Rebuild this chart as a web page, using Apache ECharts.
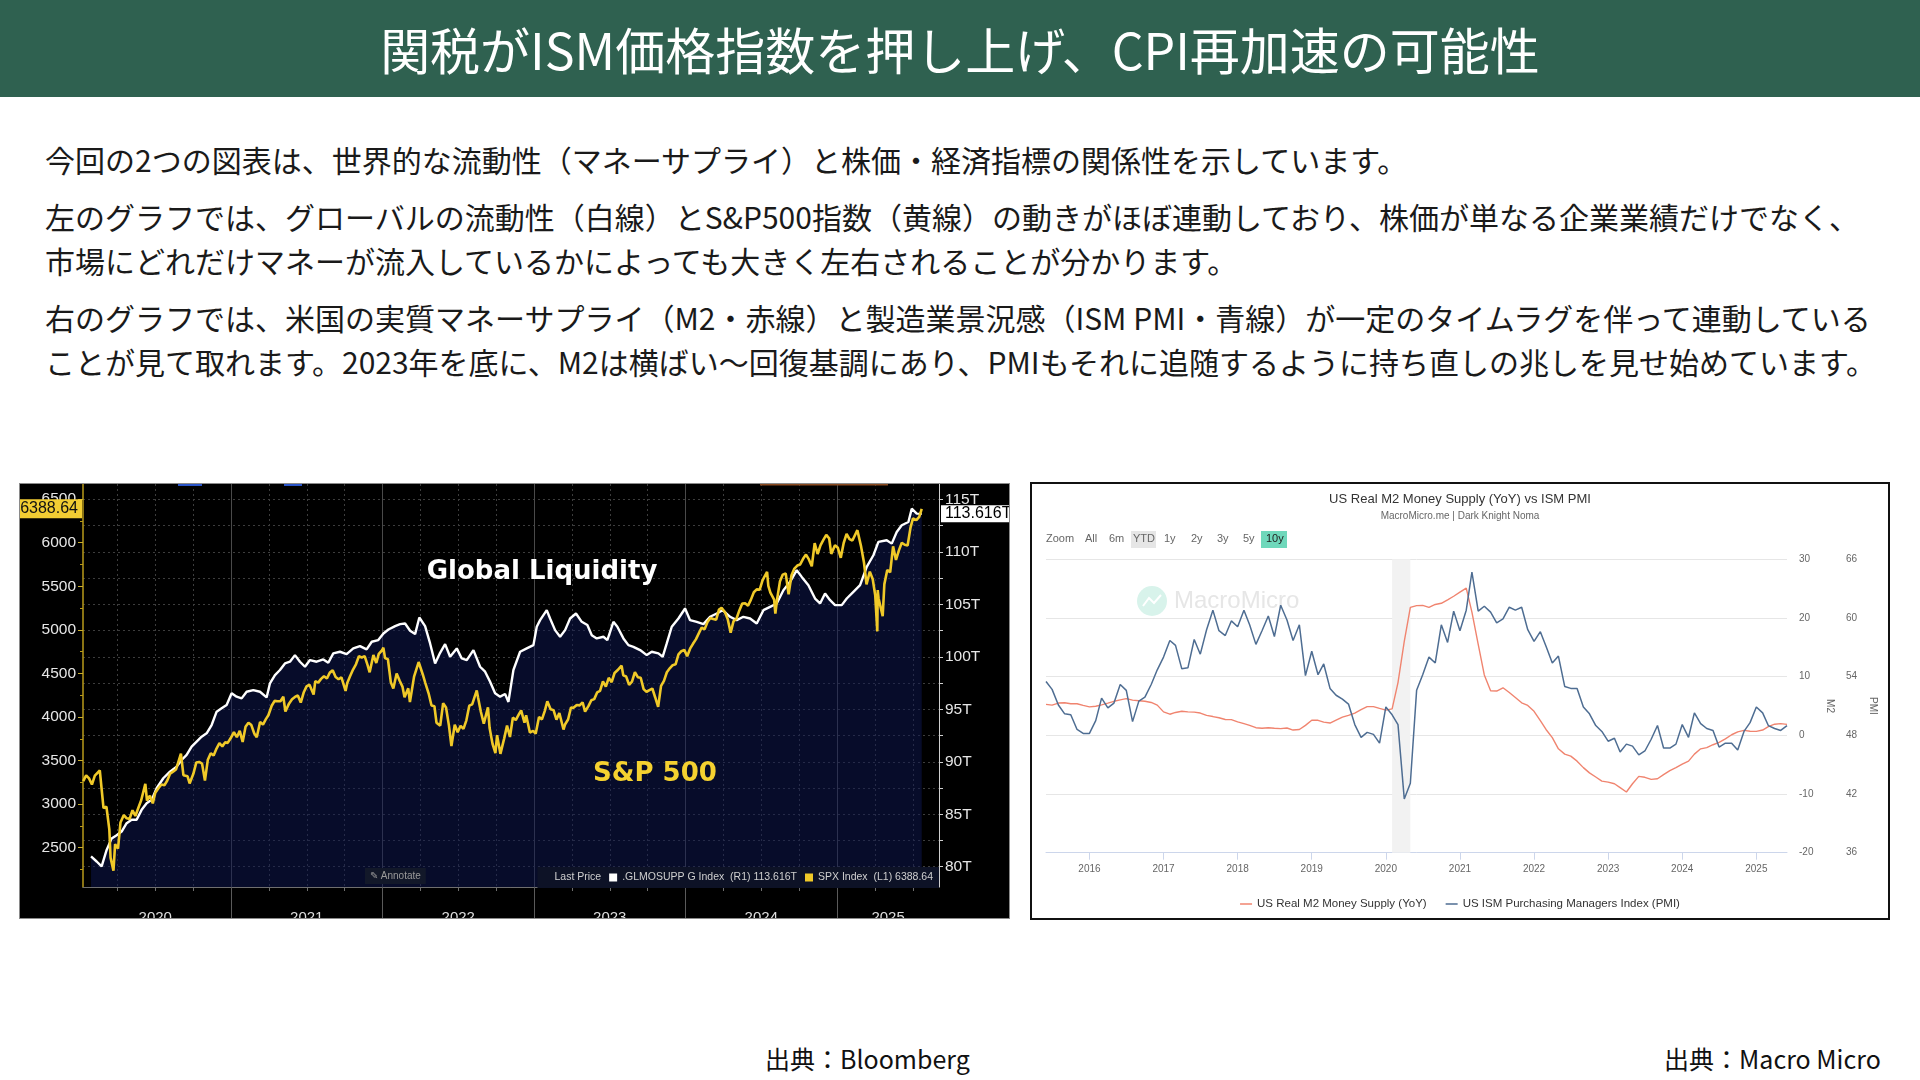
<!DOCTYPE html>
<html><head><meta charset="utf-8">
<script src="https://cdn.jsdelivr.net/npm/echarts@6/dist/echarts.min.js"></script>
<style>
html,body{margin:0;padding:0;width:1920px;height:1080px;background:#fff;overflow:hidden;font-family:"Noto Sans CJK JP","Noto Sans",sans-serif;}
#header{position:absolute;left:0;top:0;width:1920px;height:97px;background:#2f6150;color:#fff;font-size:50px;line-height:97px;text-align:center;white-space:nowrap;}
#body{position:absolute;left:45px;top:137px;font-size:30px;color:#1a1a1a;white-space:nowrap;}
#body p{margin:0 0 13px 0;line-height:44px;}
#left{position:absolute;left:20px;top:484px;width:989px;height:434px;background:#000;outline:1px solid #8a8a8a;}
#right{position:absolute;left:1032px;top:484px;width:856px;height:434px;background:#fff;outline:2px solid #111;}
.src{position:absolute;top:1040px;font-size:25px;line-height:36px;color:#111;white-space:nowrap;}
</style></head>
<body>
<div id="header">関税がISM価格指数を押し上げ、CPI再加速の可能性</div>
<div id="body">
<p>今回の2つの図表は、世界的な流動性（マネーサプライ）と株価・経済指標の関係性を示しています。</p>
<p>左のグラフでは、グローバルの流動性（白線）とS&amp;P500指数（黄線）の動きがほぼ連動しており、株価が単なる企業業績だけでなく、<br>市場にどれだけマネーが流入しているかによっても大きく左右されることが分かります。</p>
<p>右のグラフでは、米国の実質マネーサプライ（M2・赤線）と製造業景況感（ISM PMI・青線）が一定のタイムラグを伴って連動している<br>ことが見て取れます。2023年を底に、M2は横ばい〜回復基調にあり、PMIもそれに追随するように持ち直しの兆しを見せ始めています。</p>
</div>
<div id="left"></div>
<div id="right"></div>
<div class="src" style="left:765px;">出典：Bloomberg</div>
<div class="src" style="left:1664px;">出典：Macro Micro</div>
<script>
// ---------------- LEFT CHART DATA (Bloomberg) ----------------
const spxDates = ['2020-01-10','2020-01-17','2020-01-24','2020-01-31','2020-02-07','2020-02-19','2020-02-28','2020-03-06','2020-03-13','2020-03-16','2020-03-23','2020-03-27','2020-04-03','2020-04-09','2020-04-17','2020-04-24','2020-05-01','2020-05-08','2020-05-15','2020-05-22','2020-05-29','2020-06-08','2020-06-12','2020-06-19','2020-06-26','2020-07-02','2020-07-10','2020-07-17','2020-07-24','2020-07-31','2020-08-07','2020-08-14','2020-08-21','2020-09-02','2020-09-08','2020-09-11','2020-09-18','2020-09-23','2020-10-02','2020-10-09','2020-10-16','2020-10-23','2020-10-30','2020-11-06','2020-11-13','2020-11-20','2020-11-27','2020-12-04','2020-12-11','2020-12-18','2020-12-24','2020-12-31',
'2021-01-08','2021-01-15','2021-01-22','2021-01-29','2021-02-05','2021-02-12','2021-02-19','2021-02-26','2021-03-04','2021-03-12','2021-03-19','2021-03-26','2021-04-01','2021-04-09','2021-04-16','2021-04-23','2021-04-30','2021-05-07','2021-05-12','2021-05-21','2021-05-28','2021-06-04','2021-06-11','2021-06-18','2021-06-25','2021-07-02','2021-07-09','2021-07-19','2021-07-23','2021-07-30','2021-08-06','2021-08-13','2021-08-20','2021-08-27','2021-09-03','2021-09-10','2021-09-17','2021-09-24','2021-10-04','2021-10-08','2021-10-15','2021-10-22','2021-10-29','2021-11-05','2021-11-12','2021-11-19','2021-11-26','2021-12-01','2021-12-10','2021-12-17','2021-12-23','2021-12-31',
'2022-01-03','2022-01-07','2022-01-14','2022-01-21','2022-01-27','2022-02-04','2022-02-11','2022-02-18','2022-02-23','2022-03-04','2022-03-08','2022-03-18','2022-03-29','2022-04-08','2022-04-14','2022-04-22','2022-04-29','2022-05-06','2022-05-11','2022-05-20','2022-05-27','2022-06-03','2022-06-10','2022-06-16','2022-06-24','2022-07-01','2022-07-08','2022-07-15','2022-07-22','2022-07-29','2022-08-05','2022-08-16','2022-08-19','2022-08-26','2022-09-02','2022-09-12','2022-09-16','2022-09-23','2022-09-30','2022-10-04','2022-10-12','2022-10-21','2022-10-28','2022-11-04','2022-11-11','2022-11-18','2022-11-25','2022-12-01','2022-12-09','2022-12-13','2022-12-22','2022-12-30',
'2023-01-05','2023-01-13','2023-01-20','2023-01-27','2023-02-02','2023-02-10','2023-02-17','2023-02-24','2023-03-03','2023-03-13','2023-03-17','2023-03-24','2023-03-31','2023-04-06','2023-04-14','2023-04-21','2023-04-28','2023-05-04','2023-05-12','2023-05-19','2023-05-26','2023-06-02','2023-06-09','2023-06-16','2023-06-23','2023-06-30','2023-07-07','2023-07-14','2023-07-21','2023-07-31','2023-08-04','2023-08-11','2023-08-18','2023-08-25','2023-09-01','2023-09-08','2023-09-15','2023-09-22','2023-09-29','2023-10-06','2023-10-13','2023-10-20','2023-10-27','2023-11-03','2023-11-10','2023-11-17','2023-11-24','2023-12-01','2023-12-08','2023-12-15','2023-12-22','2023-12-29',
'2024-01-05','2024-01-12','2024-01-19','2024-01-26','2024-02-02','2024-02-09','2024-02-16','2024-02-23','2024-03-01','2024-03-08','2024-03-15','2024-03-22','2024-03-28','2024-04-05','2024-04-12','2024-04-19','2024-04-26','2024-05-03','2024-05-10','2024-05-17','2024-05-24','2024-05-31','2024-06-07','2024-06-14','2024-06-21','2024-06-28','2024-07-05','2024-07-16','2024-07-19','2024-07-24','2024-08-02','2024-08-05','2024-08-09','2024-08-16','2024-08-23','2024-08-30','2024-09-06','2024-09-13','2024-09-20','2024-09-27','2024-10-04','2024-10-11','2024-10-18','2024-10-25','2024-11-01','2024-11-08','2024-11-15','2024-11-22','2024-11-29','2024-12-06','2024-12-13','2024-12-18','2024-12-27',
'2025-01-03','2025-01-10','2025-01-17','2025-01-24','2025-01-31','2025-02-07','2025-02-19','2025-02-28','2025-03-07','2025-03-13','2025-03-21','2025-03-28','2025-04-03','2025-04-08','2025-04-09','2025-04-11','2025-04-21','2025-04-25','2025-05-02','2025-05-09','2025-05-16','2025-05-23','2025-05-30','2025-06-06','2025-06-13','2025-06-20','2025-06-27','2025-07-03','2025-07-11','2025-07-18','2025-07-24'];
const spxValues = [3265,3330,3295,3225,3328,3386,2954,2972,2711,2386,2237,2541,2489,2790,2875,2837,2831,2930,2864,2955,3044,3232,3041,3098,3009,3130,3185,3225,3216,3271,3351,3373,3397,3580,3332,3341,3319,3237,3348,3477,3484,3465,3270,3510,3585,3558,3638,3699,3663,3709,3703,3756,
3825,3768,3841,3714,3887,3934,3907,3811,3768,3943,3913,3975,4020,4129,4185,4180,4181,4233,4063,4156,4204,4230,4247,4166,4281,4352,4370,4258,4412,4395,4437,4468,4442,4509,4535,4459,4433,4455,4300,4391,4471,4545,4605,4697,4683,4698,4595,4513,4712,4620,4725,4766,
4796,4677,4663,4398,4327,4500,4419,4349,4226,4329,4171,4463,4631,4488,4392,4272,4132,4123,3935,3901,4158,4109,3901,3667,3912,3825,3899,3863,3962,4130,4145,4305,4228,4058,3924,4110,3873,3693,3586,3791,3577,3752,3901,3771,3993,3965,4026,4076,3934,4019,3822,3840,
3808,3999,3973,4071,4180,4090,4079,3970,4046,3856,3917,3971,4109,4105,4138,4133,4169,4061,4124,4192,4205,4282,4299,4410,4348,4450,4399,4505,4536,4589,4478,4464,4370,4406,4516,4457,4450,4320,4288,4308,4327,4224,4117,4358,4415,4514,4559,4595,4604,4719,4755,4770,
4697,4784,4840,4891,4959,5027,5006,5089,5137,5124,5117,5234,5254,5204,5123,4967,5100,5128,5223,5303,5305,5278,5347,5432,5465,5460,5567,5667,5505,5427,5347,5186,5344,5554,5634,5648,5408,5626,5703,5738,5751,5815,5864,5808,5729,5995,5871,5969,6032,6090,6051,5872,5971,
5942,5827,5997,6101,6041,6026,6144,5955,5770,5522,5668,5581,5397,4982,5457,5363,5158,5525,5687,5660,5958,5803,5912,6000,5977,5968,6173,6279,6260,6297,6388.64];

// Global liquidity (.GLMOSUPP G Index, trillions USD); positions in decimal years
const liquidityX = [2020.076,2020.113,2020.146,2020.179,2020.212,2020.245,2020.278,2020.311,2020.344,2020.377,2020.41,2020.443,2020.476,2020.509,2020.553,2020.597,2020.641,2020.674,2020.707,2020.74,2020.773,2020.806,2020.839,2020.872,2020.905,2020.938,2020.971,
2021.004,2021.037,2021.07,2021.103,2021.147,2021.191,2021.235,2021.257,2021.29,2021.323,2021.356,2021.389,2021.422,2021.455,2021.488,2021.521,2021.565,2021.609,2021.642,2021.675,2021.719,2021.763,2021.807,2021.851,2021.895,2021.929,2021.972,
2022.006,2022.039,2022.083,2022.116,2022.149,2022.182,2022.215,2022.243,2022.281,2022.314,2022.347,2022.38,2022.413,2022.446,2022.49,2022.523,2022.556,2022.6,2022.644,2022.677,2022.71,2022.743,2022.776,2022.809,2022.831,2022.864,2022.908,2022.952,2022.996,
2023.018,2023.04,2023.084,2023.106,2023.139,2023.172,2023.205,2023.238,2023.277,2023.315,2023.352,2023.381,2023.414,2023.458,2023.484,2023.524,2023.55,2023.59,2023.623,2023.656,2023.7,2023.744,2023.777,2023.821,2023.849,2023.876,2023.909,2023.953,2023.997,
2024.03,2024.074,2024.118,2024.162,2024.206,2024.245,2024.294,2024.338,2024.382,2024.426,2024.47,2024.514,2024.558,2024.602,2024.646,2024.69,2024.734,2024.767,2024.811,2024.855,2024.888,2024.921,2024.954,2024.987,
2025.031,2025.064,2025.108,2025.152,2025.196,2025.24,2025.273,2025.328,2025.361,2025.394,2025.427,2025.471,2025.493,2025.526,2025.559];
const liquidityT = [80.98,80.5,80.03,81.6,82.7,83.0,83.35,84.15,84.47,84.47,85.42,86.05,86.37,87.48,88.43,89.06,89.54,90.17,90.65,91.44,91.92,92.39,92.71,93.5,94.77,95.09,95.41,
96.52,96.2,96.04,96.67,96.83,96.67,96.13,97.47,98.26,98.74,99.37,99.53,100.16,99.53,99.05,99.69,99.53,99.75,99.43,100.32,100.48,100.26,100.8,101.02,100.7,101.43,101.59,
102.22,102.6,102.92,103.11,103.17,102.48,102.16,103.74,102.92,101.27,99.37,100.38,101.21,100.0,100.8,99.84,99.69,100.64,99.05,98.58,97.63,96.52,96.2,96.45,95.7,98.74,100.48,100.8,101.11,
102.86,103.49,104.44,103.65,102.54,101.91,102.54,103.65,104.12,103.33,103.02,102.06,101.75,101.91,101.59,103.33,102.86,101.75,101.11,100.95,100.64,100.16,100.48,100.32,100.0,101.27,102.86,103.65,104.6,
103.49,103.33,103.11,103.81,104.12,104.44,103.81,103.49,103.81,103.65,103.17,104.44,104.76,105.08,106.34,107.14,108.25,107.61,106.82,105.55,105.08,106.03,105.39,104.92,
104.92,105.55,106.19,106.82,108.56,109.67,110.94,111.1,110.78,111.89,112.53,112.84,114.11,113.64,113.616];

const spxLast = 6388.64;
const liquidityLast = 113.616;
const leftYearLabelPos = [2020.5, 2021.5, 2022.5, 2023.5, 2024.5, 2025.337];
const leftYearLines = [2021, 2022, 2023, 2024, 2025];
const leftQuarterTicks = [2020.25,2020.5,2020.75,2021,2021.25,2021.5,2021.75,2022,2022.25,2022.5,2022.75,2023,2023.25,2023.5,2023.75,2024,2024.25,2024.5,2024.75,2025,2025.25,2025.5];
const spxTickLabels = [2500,3000,3500,4000,4500,5000,5500,6000,6500];
const spxMinorTicks = [2250,2750,3250,3750,4250,4750,5250,5750,6250];
const liqTickLabels = [80,85,90,95,100,105,110,115];
const liqTicks = [80,82.5,85,87.5,90,92.5,95,97.5,100,102.5,105,107.5,110,112.5,115];

// ---------------- RIGHT CHART DATA (MacroMicro), monthly from 2015-06 to 2025-06 ----------------
const monthStart = [2015, 6];
const m2YoY = [5.28,5.15,5.5,5.55,5.39,5.39,5.1,
4.85,4.95,5.2,5.5,5.8,6.05,6.25,6.0,5.9,5.8,5.6,5.15,
4.0,3.6,3.9,4.1,4.0,3.95,3.8,3.4,3.2,3.0,2.7,2.67,
2.3,2.0,1.7,1.3,1.2,1.3,1.2,1.15,1.25,0.9,1.0,1.7,
2.56,2.56,2.25,2.1,2.6,3.1,3.4,3.8,4.4,4.9,4.9,4.6,
4.3,4.5,9.0,16.0,21.8,22.1,22.15,21.8,22.3,22.5,23.1,23.7,
24.4,25.1,21.0,15.5,10.3,7.6,7.55,8.1,7.3,6.45,5.55,5.1,
4.1,2.5,1.0,-0.4,-2.3,-3.2,-3.55,-4.4,-5.5,-6.4,-7.1,-7.8,
-7.97,-8.25,-8.9,-9.65,-8.25,-7.0,-7.15,-7.5,-7.4,-6.7,-6.0,-5.5,
-4.9,-4.4,-3.2,-2.3,-2.1,-1.6,-1.2,-0.6,0.1,0.6,0.85,0.7,
0.68,0.9,1.5,1.9,1.99,1.87];
const ismPMI = [53.5,52.7,51.1,50.2,50.1,48.6,48.2,
48.2,49.5,51.8,50.8,51.3,53.2,52.6,49.4,51.5,51.9,53.2,54.7,
56.0,57.7,57.2,54.8,54.9,57.8,56.3,58.8,60.8,58.7,58.2,59.7,
59.1,60.8,59.3,57.3,58.7,60.2,58.1,61.3,59.8,57.7,59.3,54.1,
56.6,54.2,55.3,52.8,52.1,51.7,51.2,49.1,47.8,48.3,48.1,47.2,
50.9,50.1,49.1,41.5,43.1,52.6,54.2,56.0,55.4,59.3,57.5,60.7,
58.7,60.8,64.7,60.7,61.2,60.6,59.5,59.9,61.1,60.8,61.1,58.8,
57.6,58.6,57.1,55.4,56.1,53.0,52.8,52.8,50.9,50.2,49.0,48.4,
47.4,47.7,46.3,47.1,46.9,46.0,46.4,47.6,49.0,46.7,46.7,47.1,
49.1,47.8,50.3,49.2,48.7,48.5,46.8,47.2,47.2,46.5,48.4,49.3,
50.9,50.3,49.0,48.7,48.5,49.0];
const recessionBand = ['2020-02-01', '2020-05-01'];
const rightYears = [2016,2017,2018,2019,2020,2021,2022,2023,2024,2025];
const rightRange = ['2015-06-01', '2025-06-01'];
const rangeButtons = ['Zoom','All','6m','YTD','1y','2y','3y','5y','10y'];

// ---------------- helpers ----------------
function decYear(s){
  const p = s.split('-').map(Number);
  const y = p[0], m = p[1], d = p[2] || 1;
  const t0 = Date.UTC(y,0,1), t1 = Date.UTC(y+1,0,1);
  return y + (Date.UTC(y,m-1,d) - t0) / (t1 - t0);
}
function monthPos(i){
  const tot = monthStart[1] - 1 + i;
  const y = monthStart[0] + Math.floor(tot/12), m = tot % 12 + 1;
  return decYear(y + '-' + m + '-1');
}

// ---------------- LEFT CHART ----------------
const leftChart = echarts.init(document.getElementById('left'));
const spxData = spxDates.map((d,i)=>[decYear(d), spxValues[i]]);
const liqData = liquidityX.map((x,i)=>[x, liquidityT[i]]);
const LX = {min:2020.023, max:2025.673};
const dotted = {color:'#3d3d3d', type:[2,3], width:1};
const hiddenLine = {color:'rgba(0,0,0,0)', width:1, opacity:1};
leftChart.setOption({
  animation:false,
  backgroundColor:'#000',
  textStyle:{fontFamily:'Liberation Sans'},
  grid:{left:63, right:70, top:0, bottom:31, outerBoundsMode:'none'},
  legend:{
    data:[{name:'Last Price', icon:'none'}, '.GLMOSUPP G Index', 'SPX Index'],
    right:70, top:383, itemWidth:8, itemHeight:8, icon:'rect', itemGap:8,
    backgroundColor:'#0d1226', padding:[5,6,5,4],
    textStyle:{color:'#cfcfcf', fontSize:10.5, fontFamily:'Liberation Sans'},
    formatter:function(n){
      if(n==='SPX Index') return 'SPX Index  (L1) ' + spxLast;
      if(n==='.GLMOSUPP G Index') return '.GLMOSUPP G Index  (R1) ' + liquidityLast + 'T';
      return n;
    },
    selectedMode:false
  },
  xAxis:[
    {type:'value', min:LX.min, max:LX.max,
     axisLine:{onZero:false, lineStyle:{color:'#6f6f6f'}},
     axisTick:{customValues:leftQuarterTicks, length:4, lineStyle:{color:'#6f6f6f'}},
     axisLabel:{customValues:leftYearLabelPos, formatter:v=>String(Math.floor(v)), color:'#dedede', fontSize:15, margin:23},
     splitLine:{show:true, lineStyle:dotted}},
    {type:'value', min:LX.min, max:LX.max, position:'bottom',
     axisLine:{show:false, onZero:false},
     axisTick:{customValues:leftYearLines, length:31, lineStyle:{color:'#5a5a5a'}},
     axisLabel:{show:false},
     splitLine:{show:true, lineStyle:{color:'#4a4a4a', width:1}}}
  ],
  yAxis:[
    {type:'value', min:2049, max:6674, position:'left',
     axisLine:{show:true, onZero:false, lineStyle:{color:'#b89a1a', width:1.5}},
     axisTick:{customValues:spxTickLabels, length:5, lineStyle:{color:'#c9ae2d'}},
     axisLabel:{customValues:spxTickLabels, formatter:v=>String(v), color:'#e6e6e6', fontSize:15.5, margin:7},
     splitLine:{show:false}},
    {type:'value', min:2049, max:6674, position:'left',
     axisLine:{show:false, onZero:false},
     axisTick:{customValues:spxMinorTicks, length:3, lineStyle:{color:'#b89a1a'}},
     axisLabel:{show:false}, splitLine:{show:false}},
    {type:'value', min:78.07, max:116.46, position:'right',
     axisLine:{show:true, onZero:false, lineStyle:{color:'#cfcfcf', width:1}},
     axisTick:{customValues:liqTicks, length:4, lineStyle:{color:'#cfcfcf'}},
     axisLabel:{customValues:liqTickLabels, formatter:v=>v+'T', color:'#e6e6e6', fontSize:15.5, margin:6},
     splitLine:{show:true, lineStyle:dotted}}
  ],
  series:[
    {name:'.GLMOSUPP G Index', type:'line', xAxisIndex:0, yAxisIndex:2, data:liqData, showSymbol:false, z:2, clip:false,
     lineStyle:{color:'#ffffff', width:2.4}, itemStyle:{color:'#ffffff'},
     areaStyle:{color:'rgba(14,24,84,0.5)', opacity:1, origin:'start'},
     markLine:{silent:true, symbol:['none','none'], data:[{yAxis:liquidityLast}], lineStyle:hiddenLine, z:20,
       emphasis:{disabled:true},
       label:{show:true, position:'end', formatter:liquidityLast+'T', backgroundColor:'#ffffff', color:'#000', opacity:1, fontSize:16, padding:[1,3,0,4], distance:2, fontFamily:'Liberation Sans'}}},
    {name:'SPX Index', type:'line', xAxisIndex:0, yAxisIndex:0, data:spxData, showSymbol:false, z:3, clip:false,
     lineStyle:{color:'#f0c928', width:2.6}, itemStyle:{color:'#f0c928'},
     markLine:{silent:true, symbol:['none','none'], data:[{yAxis:spxLast}], lineStyle:hiddenLine, z:20,
       emphasis:{disabled:true},
       label:{show:true, position:'start', formatter:String(spxLast), backgroundColor:'#f2cd33', color:'#111', opacity:1, fontSize:16, padding:[2,4,1,2], distance:1, fontFamily:'Liberation Sans'}}},
    {name:'Last Price', type:'line', data:[], xAxisIndex:0, yAxisIndex:0, itemStyle:{color:'#0d1226'}}
  ],
  graphic:[
    {type:'rect', shape:{x:158, y:0, width:24, height:2}, style:{fill:'#2a55c8'}, z:100},
    {type:'rect', shape:{x:264, y:0, width:18, height:2}, style:{fill:'#2a55c8'}, z:100},
    {type:'rect', shape:{x:740, y:0, width:128, height:1.5}, style:{fill:'#8a4a20'}, z:100},
    {type:'text', x:522, y:88, z:100, style:{text:'Global Liquidity', fill:'#ffffff', font:'bold 26px "DejaVu Sans"', align:'center', verticalAlign:'middle', textShadowColor:'rgba(0,0,0,0.8)', textShadowBlur:2}},
    {type:'text', x:635, y:290, z:100, style:{text:'S&P 500', fill:'#f5d130', font:'bold 26px "DejaVu Sans"', align:'center', verticalAlign:'middle'}},
    {type:'text', x:345, y:384, z:100, style:{text:'✎ Annotate', fill:'#9a9a9a', font:'10px "Liberation Sans"', backgroundColor:'#121829', padding:[3,5]}}
  ]
});

// ---------------- RIGHT CHART ----------------
const rightChart = echarts.init(document.getElementById('right'));
const m2Data = m2YoY.map((v,i)=>[monthPos(i), v]);
const pmiData = ismPMI.map((v,i)=>[monthPos(i), v]);
const btnX = [14,53,77,101,132,159,185,211,234];
const btnGraphics = rangeButtons.map((t,i)=>({type:'text', x:btnX[i], y:55, z:10,
  style:{text:t, fill: t==='10y' ? '#222' : '#666', font:'11px "Liberation Sans"', verticalAlign:'middle'}}));
rightChart.setOption({
  animation:false,
  backgroundColor:'#fff',
  textStyle:{fontFamily:'Liberation Sans'},
  title:{text:'US Real M2 Money Supply (YoY) vs ISM PMI', subtext:'MacroMicro.me | Dark Knight Noma',
    left:'center', top:4, itemGap:5,
    textStyle:{fontSize:13, fontWeight:'normal', color:'#333', fontFamily:'Liberation Sans'},
    subtextStyle:{fontSize:10, color:'#666', fontFamily:'Liberation Sans'}},
  grid:{left:14, right:101, top:75.3, bottom:65.3, outerBoundsMode:'none'},
  legend:{data:['US Real M2 Money Supply (YoY)','US ISM Purchasing Managers Index (PMI)'],
    left:'center', top:409, icon:'rect', itemWidth:12, itemHeight:1.5, itemGap:19,
    textStyle:{color:'#333', fontSize:11.5, fontFamily:'Liberation Sans'}, selectedMode:false},
  xAxis:{type:'value', min:decYear(rightRange[0]), max:decYear(rightRange[1]),
    axisLine:{onZero:false, lineStyle:{color:'#ccd6eb'}},
    axisTick:{customValues:rightYears, length:7, lineStyle:{color:'#ccd6eb'}},
    axisLabel:{customValues:rightYears, formatter:v=>String(v), color:'#666', fontSize:10, margin:12},
    splitLine:{show:false}},
  yAxis:[
    {type:'value', position:'right', min:-20, max:30, interval:10,
     axisLine:{show:false, onZero:false}, axisTick:{show:false},
     axisLabel:{color:'#666', fontSize:10, align:'left', margin:12},
     splitLine:{lineStyle:{color:'#e6e6e6'}},
     name:'M2', nameLocation:'middle', nameRotate:-90, nameGap:36,
     nameTextStyle:{color:'#666', fontSize:10}},
    {type:'value', position:'right', offset:47, min:36, max:66, interval:6,
     axisLine:{show:false, onZero:false}, axisTick:{show:false},
     axisLabel:{color:'#666', fontSize:10, align:'left', margin:12},
     splitLine:{show:false},
     name:'PMI', nameLocation:'middle', nameRotate:-90, nameGap:34,
     nameTextStyle:{color:'#666', fontSize:10}}
  ],
  series:[
    {type:'line', data:[], z:0, silent:true,
     markArea:{silent:true, itemStyle:{color:'#f2f2f2'},
       data:[[{xAxis:decYear(recessionBand[0])},{xAxis:decYear(recessionBand[1])}]]}},
    {name:'US Real M2 Money Supply (YoY)', type:'line', yAxisIndex:0, data:m2Data, showSymbol:false, z:3,
     lineStyle:{color:'#f0846f', width:1.4}, itemStyle:{color:'#f0846f'}},
    {name:'US ISM Purchasing Managers Index (PMI)', type:'line', yAxisIndex:1, data:pmiData, showSymbol:false, z:4,
     lineStyle:{color:'#4e6d92', width:1.5}, itemStyle:{color:'#4e6d92'}}
  ],
  graphic:[
    {type:'rect', shape:{x:99, y:47, width:25, height:17}, style:{fill:'#e6e6e6'}, z:5},
    {type:'rect', shape:{x:229, y:47, width:26, height:17}, style:{fill:'#6fd8bb'}, z:5},
    ...btnGraphics,
    {type:'circle', shape:{cx:120, cy:117, r:15}, style:{fill:'#d8f3eb'}, z:1},
    {type:'polyline', shape:{points:[[111,122],[117,114],[122,119],[129,111]]}, style:{stroke:'#ffffff', lineWidth:2, fill:null}, z:1},
    {type:'text', x:142, y:117, z:1, style:{text:'MacroMicro', fill:'#e6e6e6', font:'24px "Liberation Sans"', verticalAlign:'middle'}}
  ]
});
</script>
</body></html>
